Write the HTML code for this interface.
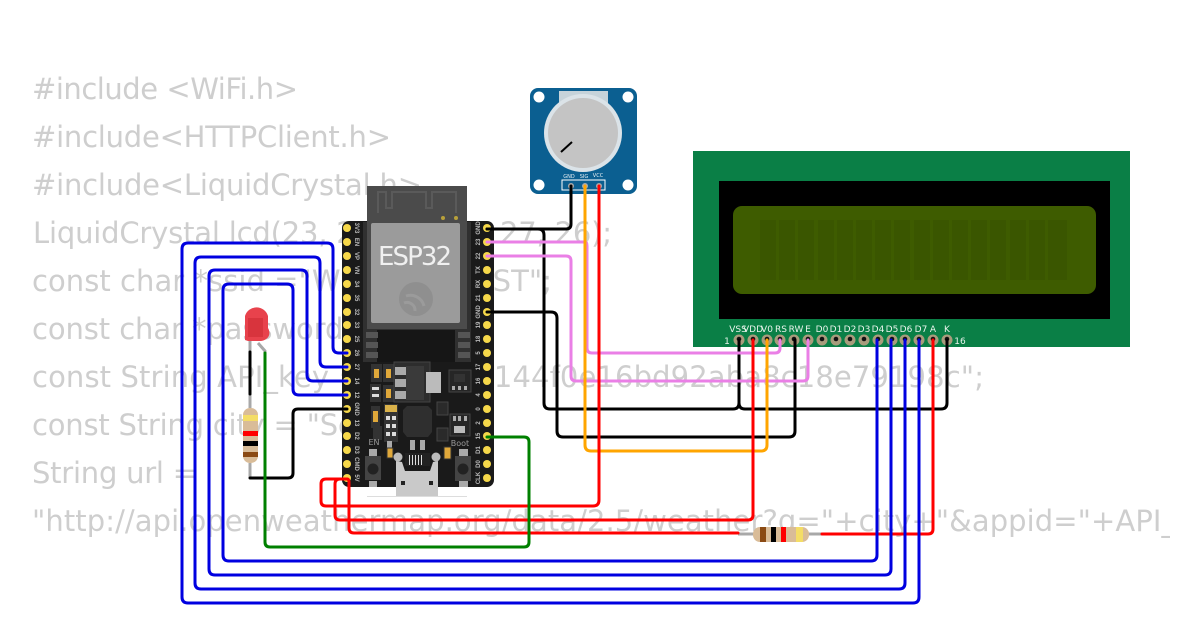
<!DOCTYPE html>
<html><head><meta charset="utf-8"><style>html,body{margin:0;padding:0;background:#fff}svg{display:block}</style></head><body>
<svg width="1200" height="630" viewBox="0 0 1200 630" xmlns="http://www.w3.org/2000/svg">
<defs><clipPath id="c"><rect x="0" y="0" width="1170" height="630"/></clipPath></defs>
<g clip-path="url(#c)" font-family="DejaVu Sans, sans-serif" font-size="29" fill="#cecece">
<text x="32" y="99" textLength="266">#include &lt;WiFi.h&gt;</text>
<text x="32" y="147" textLength="359">#include&lt;HTTPClient.h&gt;</text>
<text x="32" y="195" textLength="390">#include&lt;LiquidCrystal.h&gt;</text>
<text x="33" y="243" textLength="579">LiquidCrystal lcd(23, 22, 21, 19, 27, 26);</text>
<text x="32" y="291" textLength="520">const char *ssid ="WOKWI-GUEST";</text>
<text x="32" y="339" textLength="390">const char *password = "";</text>
<text x="32" y="387" textLength="952">const String API_key = "a1b2c3144f0e16bd92aba8c18e79198c";</text>
<text x="32" y="435" textLength="390">const String city = "Seoul";</text>
<text x="32" y="483" textLength="165">String url =</text>
<text x="32" y="531" textLength="1195">"http://api.openweathermap.org/data/2.5/weather?q="+city+"&amp;appid="+API_key</text>
</g>

<!-- potentiometer -->
<g>
<rect x="530" y="88" width="107" height="106" rx="8" fill="#0b5f91"/>
<circle cx="539" cy="97" r="5.5" fill="#fff"/><circle cx="628" cy="97" r="5.5" fill="#fff"/>
<circle cx="539" cy="185" r="5.5" fill="#fff"/><circle cx="628" cy="185" r="5.5" fill="#fff"/>
<rect x="559" y="91" width="49" height="14" fill="#c6d3da"/>
<circle cx="583" cy="133" r="39" fill="#dbe3e8"/><circle cx="583" cy="133" r="35" fill="#c4c4c4"/>
<line x1="561" y1="152" x2="572" y2="142" stroke="#000" stroke-width="2"/>
<rect x="562" y="180" width="43" height="10" fill="none" stroke="#fff" stroke-width="1"/>
<circle cx="571" cy="186" r="3" fill="#aaa"/><circle cx="585" cy="186" r="3" fill="#aaa"/><circle cx="599" cy="186" r="3" fill="#aaa"/>
<g font-family="DejaVu Sans, sans-serif" font-size="5" fill="#e8f0f4" text-anchor="middle"><text x="569" y="178">GND</text><text x="584" y="178">SIG</text><text x="598" y="177">VCC</text></g>
</g>

<!-- LCD -->
<g>
<rect x="693" y="151" width="437" height="196" fill="#0a7f46"/>
<rect x="719" y="181" width="391" height="138" fill="#000"/>
<rect x="733" y="206" width="363" height="88" rx="9" fill="#3e5c00"/>
<g fill="#3a5600">
<rect x="760" y="220" width="16" height="60"/><rect x="779" y="220" width="16" height="60"/><rect x="798" y="220" width="16" height="60"/><rect x="818" y="220" width="16" height="60"/>
<rect x="837" y="220" width="16" height="60"/><rect x="856" y="220" width="16" height="60"/><rect x="875" y="220" width="16" height="60"/><rect x="894" y="220" width="16" height="60"/>
<rect x="914" y="220" width="16" height="60"/><rect x="933" y="220" width="16" height="60"/><rect x="952" y="220" width="16" height="60"/><rect x="971" y="220" width="16" height="60"/>
<rect x="990" y="220" width="16" height="60"/><rect x="1010" y="220" width="16" height="60"/><rect x="1029" y="220" width="16" height="60"/><rect x="1048" y="220" width="19" height="60"/>
</g>
<g fill="#a89c7c">
<circle cx="739" cy="340" r="5.5"/><circle cx="753" cy="340" r="5.5"/><circle cx="767" cy="340" r="5.5"/><circle cx="780" cy="340" r="5.5"/><circle cx="794" cy="340" r="5.5"/><circle cx="808" cy="340" r="5.5"/><circle cx="822" cy="340" r="5.5"/><circle cx="836" cy="340" r="5.5"/>
<circle cx="850" cy="340" r="5.5"/><circle cx="864" cy="340" r="5.5"/><circle cx="878" cy="340" r="5.5"/><circle cx="892" cy="340" r="5.5"/><circle cx="905" cy="340" r="5.5"/><circle cx="919" cy="340" r="5.5"/><circle cx="933" cy="340" r="5.5"/><circle cx="947" cy="340" r="5.5"/>
</g>
<g fill="#111">
<circle cx="739" cy="339" r="2.3"/><circle cx="753" cy="339" r="2.3"/><circle cx="767" cy="339" r="2.3"/><circle cx="780" cy="339" r="2.3"/><circle cx="794" cy="339" r="2.3"/><circle cx="808" cy="339" r="2.3"/><circle cx="822" cy="339" r="2.3"/><circle cx="836" cy="339" r="2.3"/>
<circle cx="850" cy="339" r="2.3"/><circle cx="864" cy="339" r="2.3"/><circle cx="878" cy="339" r="2.3"/><circle cx="892" cy="339" r="2.3"/><circle cx="905" cy="339" r="2.3"/><circle cx="919" cy="339" r="2.3"/><circle cx="933" cy="339" r="2.3"/><circle cx="947" cy="339" r="2.3"/>
</g>
<g font-family="DejaVu Sans, sans-serif" font-size="9" fill="#e8f4ec" text-anchor="middle">
<text x="738" y="332">VSS</text><text x="753" y="332">VDD</text><text x="767" y="332">V0</text><text x="781" y="332">RS</text><text x="796" y="332">RW</text><text x="808" y="332">E</text><text x="822" y="332">D0</text><text x="836" y="332">D1</text>
<text x="850" y="332">D2</text><text x="864" y="332">D3</text><text x="878" y="332">D4</text><text x="892" y="332">D5</text><text x="906" y="332">D6</text><text x="921" y="332">D7</text><text x="933" y="332">A</text><text x="947" y="332">K</text>
<text x="727" y="344">1</text><text x="960" y="344">16</text>
</g>
</g>

<!-- ESP32 -->
<g>
<rect x="342" y="221" width="152" height="266" rx="7" fill="#1a1a1a"/>
<rect x="367" y="186" width="100" height="40" fill="#4b4b4b"/>
<rect x="363" y="222" width="108" height="140" fill="#303030"/>
<rect x="367" y="222" width="100" height="107" fill="#4b4b4b"/>
<path d="M378,213V192H386V208H392V192H426V208H432V192H456V213" fill="none" stroke="#5a5a5a" stroke-width="2"/>
<circle cx="443" cy="218" r="2" fill="#b8a13a"/><circle cx="456" cy="218" r="2" fill="#b8a13a"/>
<rect x="371" y="223" width="89" height="100" rx="2" fill="#9b9b9b"/>
<text x="378" y="265" font-family="DejaVu Sans, sans-serif" font-size="26" fill="#f0f0f0" textLength="74">ESP32</text>
<circle cx="416" cy="299" r="17" fill="#8f8f8f"/>
<path d="M406,296a14,14 0 0 1 18,10M404,303a8,8 0 0 1 11,8" fill="none" stroke="#9b9b9b" stroke-width="3"/>
<rect x="377" y="330" width="78" height="32" fill="#161616"/>
<rect x="366" y="332" width="12" height="6" fill="#555"/><rect x="366" y="342" width="12" height="6" fill="#555"/><rect x="366" y="352" width="12" height="6" fill="#555"/>
<rect x="458" y="332" width="12" height="6" fill="#555"/><rect x="458" y="342" width="12" height="6" fill="#555"/><rect x="458" y="352" width="12" height="6" fill="#555"/>
<g fill="#f6d84a">
<circle cx="347" cy="228" r="4"/><circle cx="347" cy="242" r="4"/><circle cx="347" cy="256" r="4"/><circle cx="347" cy="270" r="4"/><circle cx="347" cy="284" r="4"/><circle cx="347" cy="298" r="4"/><circle cx="347" cy="312" r="4"/><circle cx="347" cy="325" r="4"/><circle cx="347" cy="339" r="4"/><circle cx="347" cy="353" r="4"/>
<circle cx="347" cy="367" r="4"/><circle cx="347" cy="381" r="4"/><circle cx="347" cy="395" r="4"/><circle cx="347" cy="409" r="4"/><circle cx="347" cy="423" r="4"/><circle cx="347" cy="436" r="4"/><circle cx="347" cy="450" r="4"/><circle cx="347" cy="464" r="4"/><circle cx="347" cy="478" r="4"/>
<circle cx="487" cy="228" r="4"/><circle cx="487" cy="242" r="4"/><circle cx="487" cy="256" r="4"/><circle cx="487" cy="270" r="4"/><circle cx="487" cy="284" r="4"/><circle cx="487" cy="298" r="4"/><circle cx="487" cy="312" r="4"/><circle cx="487" cy="325" r="4"/><circle cx="487" cy="339" r="4"/><circle cx="487" cy="353" r="4"/>
<circle cx="487" cy="367" r="4"/><circle cx="487" cy="381" r="4"/><circle cx="487" cy="395" r="4"/><circle cx="487" cy="409" r="4"/><circle cx="487" cy="423" r="4"/><circle cx="487" cy="436" r="4"/><circle cx="487" cy="450" r="4"/><circle cx="487" cy="464" r="4"/><circle cx="487" cy="478" r="4"/>
</g>
<g font-family="Liberation Sans, sans-serif" font-size="6" font-weight="bold" fill="#bbb" text-anchor="middle">
<text transform="translate(355,228) rotate(90)">3V3</text><text transform="translate(355,242) rotate(90)">EN</text><text transform="translate(355,256) rotate(90)">VP</text><text transform="translate(355,270) rotate(90)">VN</text><text transform="translate(355,284) rotate(90)">34</text><text transform="translate(355,298) rotate(90)">35</text><text transform="translate(355,312) rotate(90)">32</text><text transform="translate(355,325) rotate(90)">33</text><text transform="translate(355,339) rotate(90)">25</text><text transform="translate(355,353) rotate(90)">26</text>
<text transform="translate(355,367) rotate(90)">27</text><text transform="translate(355,381) rotate(90)">14</text><text transform="translate(355,395) rotate(90)">12</text><text transform="translate(355,409) rotate(90)">GND</text><text transform="translate(355,423) rotate(90)">13</text><text transform="translate(355,436) rotate(90)">D2</text><text transform="translate(355,450) rotate(90)">D3</text><text transform="translate(355,464) rotate(90)">CMD</text><text transform="translate(355,478) rotate(90)">5V</text>
<text transform="translate(480,228) rotate(-90)">GND</text><text transform="translate(480,242) rotate(-90)">23</text><text transform="translate(480,256) rotate(-90)">22</text><text transform="translate(480,270) rotate(-90)">TX</text><text transform="translate(480,284) rotate(-90)">RX</text><text transform="translate(480,298) rotate(-90)">21</text><text transform="translate(480,312) rotate(-90)">GND</text><text transform="translate(480,325) rotate(-90)">19</text><text transform="translate(480,339) rotate(-90)">18</text><text transform="translate(480,353) rotate(-90)">5</text>
<text transform="translate(480,367) rotate(-90)">17</text><text transform="translate(480,381) rotate(-90)">16</text><text transform="translate(480,395) rotate(-90)">4</text><text transform="translate(480,409) rotate(-90)">0</text><text transform="translate(480,423) rotate(-90)">2</text><text transform="translate(480,436) rotate(-90)">15</text><text transform="translate(480,450) rotate(-90)">D1</text><text transform="translate(480,464) rotate(-90)">D0</text><text transform="translate(480,478) rotate(-90)">CLK</text>
</g>
<!-- lower components -->
<rect x="371" y="364" width="11" height="18" fill="#333"/><rect x="374" y="369" width="5" height="9" fill="#e0a83a"/>
<rect x="383" y="364" width="11" height="18" fill="#333"/><rect x="386" y="369" width="5" height="9" fill="#e0a83a"/>
<rect x="370" y="384" width="11" height="18" fill="#333"/><rect x="372" y="387" width="7" height="3" fill="#ddd"/><rect x="372" y="394" width="7" height="3" fill="#ddd"/>
<rect x="383" y="385" width="11" height="17" fill="#333"/><rect x="386" y="389" width="5" height="9" fill="#e0a83a"/>
<rect x="394" y="362" width="36" height="40" fill="#2d2d2d" stroke="#444"/>
<rect x="395" y="367" width="11" height="8" fill="#aaa"/><rect x="395" y="379" width="11" height="8" fill="#aaa"/><rect x="395" y="391" width="11" height="8" fill="#aaa"/>
<rect x="406" y="366" width="18" height="34" fill="#3a3a3a"/>
<rect x="426" y="372" width="15" height="21" fill="#bbb"/>
<rect x="449" y="370" width="22" height="22" fill="#262626" stroke="#444"/><rect x="454" y="374" width="11" height="8" fill="#333"/><rect x="452" y="386" width="3" height="4" fill="#aaa"/><rect x="458" y="386" width="3" height="4" fill="#aaa"/><rect x="464" y="386" width="3" height="4" fill="#aaa"/>
<rect x="371" y="406" width="9" height="22" fill="#333"/><rect x="373" y="411" width="5" height="11" fill="#e0a83a"/>
<rect x="384" y="404" width="14" height="38" fill="#333"/><rect x="385" y="405" width="12" height="7" fill="#d9b14a"/><rect x="386" y="416" width="4" height="4" fill="#ddd"/><rect x="392" y="416" width="4" height="4" fill="#ddd"/><rect x="386" y="424" width="4" height="4" fill="#ddd"/><rect x="392" y="424" width="4" height="4" fill="#ddd"/><rect x="386" y="432" width="4" height="4" fill="#ddd"/><rect x="392" y="432" width="4" height="4" fill="#ddd"/>
<rect x="373" y="426" width="9" height="14" fill="#333"/>
<path d="M407,406H428L432,410V432L428,437H407L403,432V410Z" fill="#2f2f2f"/>
<rect x="437" y="402" width="11" height="13" fill="#2a2a2a" stroke="#444"/>
<rect x="437" y="428" width="11" height="13" fill="#2a2a2a" stroke="#444"/>
<rect x="450" y="414" width="20" height="22" fill="#262626" stroke="#444"/><rect x="453" y="416" width="3" height="5" fill="#aaa"/><rect x="458" y="416" width="3" height="5" fill="#aaa"/><rect x="464" y="416" width="3" height="5" fill="#aaa"/><rect x="454" y="426" width="11" height="7" fill="#bbb"/>
<g font-family="DejaVu Sans, sans-serif" font-size="8" fill="#999" text-anchor="middle"><text x="374" y="445">EN</text><text x="460" y="446">Boot</text></g>
<rect x="369" y="449" width="8" height="7" fill="#aaa"/><rect x="365" y="456" width="16" height="24" fill="#444"/><circle cx="373" cy="469" r="5.5" fill="#222"/><rect x="369" y="481" width="8" height="6" fill="#aaa"/>
<rect x="459" y="449" width="9" height="7" fill="#aaa"/><rect x="455" y="456" width="16" height="25" fill="#444"/><circle cx="463" cy="469" r="5.5" fill="#222"/><rect x="459" y="481" width="9" height="6" fill="#aaa"/>
<rect x="387" y="441" width="5" height="10" fill="#aaa"/><rect x="410" y="440" width="5" height="10" fill="#aaa"/><rect x="420" y="440" width="5" height="10" fill="#aaa"/><rect x="444" y="447" width="7" height="12" fill="#e0a83a" stroke="#333"/><rect x="387" y="448" width="6" height="10" fill="#e0a83a" stroke="#333"/>
<rect x="367" y="496" width="100" height="1" fill="#ddd"/>
<path d="M396,461L402,462L405,471H430L433,462L438,461V496H396Z" fill="#c9c9c9"/>
<circle cx="398" cy="457" r="4.5" fill="#bbb"/><circle cx="436" cy="457" r="4.5" fill="#bbb"/>
<path d="M405,453H430V466H405Z" fill="#222"/>
<rect x="409" y="455" width="1" height="10" fill="#ddd"/><rect x="412" y="455" width="1" height="10" fill="#ddd"/><rect x="415" y="455" width="1" height="10" fill="#ddd"/><rect x="418" y="455" width="1" height="10" fill="#ddd"/><rect x="421" y="455" width="1" height="10" fill="#ddd"/>
<rect x="401" y="481" width="4" height="4" fill="#222"/><rect x="429" y="481" width="4" height="4" fill="#222"/>
</g>

<!-- LED & resistors -->
<g>
<path d="M250,340V408" stroke="#a8a8a8" stroke-width="3" fill="none"/>
<path d="M258,343L265,351V353" stroke="#a8a8a8" stroke-width="3" fill="none"/>
<path d="M245,340V316A12,12 0 0 1 268,316V328C272,335 267,341 260,341H248Z" fill="#e8424c"/>
<path d="M248,318H263V337H248Z" fill="#c8262e" opacity=".5"/>
<path d="M250,463V478" stroke="#a8a8a8" stroke-width="3" fill="none"/>
<rect x="243" y="408" width="15" height="55" rx="7" fill="#d9bc98"/>
<rect x="243" y="415" width="15" height="6" fill="#f4dd66"/><rect x="243" y="431" width="15" height="5" fill="#f00"/><rect x="243" y="441" width="15" height="5" fill="#000"/><rect x="243" y="452" width="15" height="5" fill="#8b4a14"/>
<path d="M738,534H822" stroke="#a8a8a8" stroke-width="3" fill="none"/>
<rect x="753" y="527" width="56" height="15" rx="7" fill="#d9bc98"/>
<rect x="760" y="527" width="6" height="15" fill="#8b4a14"/><rect x="771" y="527" width="5" height="15" fill="#000"/><rect x="781" y="527" width="5" height="15" fill="#f00"/><rect x="796" y="527" width="7" height="15" fill="#f4dd66"/>
</g>

<!-- wires -->
<g fill="none" stroke-width="3" stroke-linejoin="round" stroke-linecap="round">
<g stroke="#000">
<path d="M250,352V394" />
<path d="M347,409H298Q293,409 293,414V473Q293,478 288,478H250"/>
<path d="M571,186V224Q571,229 566,229H487"/>
<path d="M487,229H538Q544,229 544,235V403Q544,409 550,409H733Q739,409 739,403V340"/>
<path d="M739,403Q739,409 745,409H941Q947,409 947,403V340"/>
<path d="M487,312H551Q557,312 557,318V431Q557,437 563,437H789Q795,437 795,431V340"/>
</g>
<g stroke="#ea7fe6">
<path d="M487,242H585Q587,242 587,246V348Q587,353 592,353H775Q780,353 780,348V340"/>
<path d="M487,256H566Q571,256 571,261V376Q571,381 576,381H803Q808,381 808,376V340"/>
</g>
<path d="M585,186V445Q585,451 591,451H761Q767,451 767,445V340" stroke="#ffa500"/>
<g stroke="#f00">
<path d="M599,186V500Q599,506 593,506H326Q321,506 321,501V484Q321,479 326,479H347"/>
<path d="M335,484Q335,479 340,479H347M335,484V515Q335,520 340,520H748Q753,520 753,515V340"/>
<path d="M347,479Q349,479 349,482V528Q349,533 354,533H738"/>
<path d="M822,534H928Q933,534 933,529V340"/>
</g>
<path d="M487,437H524Q529,437 529,442V542Q529,547 524,547H270Q265,547 265,542V353" stroke="#008000"/>
<g stroke="#0000e0">
<path d="M347,353H339Q333,353 333,347V249Q333,243 327,243H188Q182,243 182,249V597Q182,603 188,603H913Q919,603 919,597V340"/>
<path d="M347,367H326Q320,367 320,361V263Q320,257 314,257H201Q195,257 195,263V583Q195,589 201,589H899Q905,589 905,583V340"/>
<path d="M347,381H313Q307,381 307,375V276Q307,270 301,270H215Q209,270 209,276V569Q209,575 215,575H885Q891,575 891,569V340"/>
<path d="M347,395H299Q293,395 293,389V290Q293,284 287,284H229Q223,284 223,290V555Q223,561 229,561H871Q877,561 877,555V340"/>
</g>
</g>
</svg>
</body></html>
